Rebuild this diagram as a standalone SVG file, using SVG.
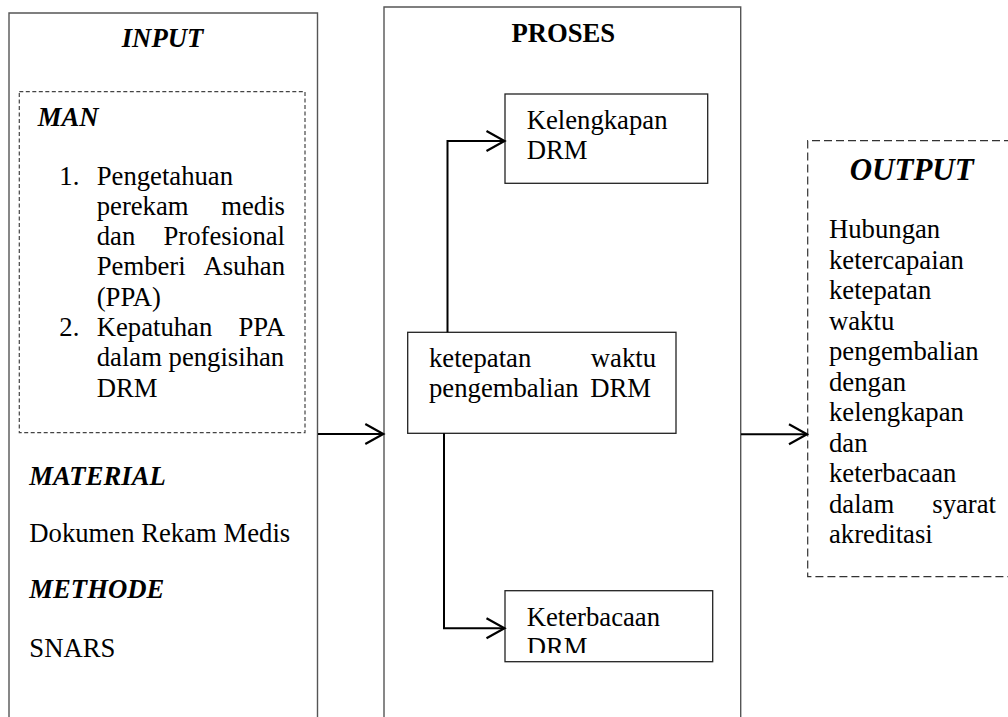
<svg xmlns="http://www.w3.org/2000/svg" width="1008" height="717" viewBox="0 0 1008 717">
<style>
text{font-family:"Liberation Serif","Times New Roman",serif;font-size:26.7px;fill:#000}
.bi{font-weight:bold;font-style:italic}
.b{font-weight:bold}
.outer{fill:none;stroke:#555;stroke-width:1.4}
.box{fill:#fff;stroke:#222;stroke-width:1.3}
.dash1{fill:none;stroke:#444;stroke-width:1.2;stroke-dasharray:4 2.5}
.dash2{fill:none;stroke:#333;stroke-width:1.2;stroke-dasharray:8 4}
.conn{fill:none;stroke:#000;stroke-width:2}
</style>
<defs>
<marker id="arr" viewBox="0 0 20 22" refX="18.5" refY="11" markerWidth="20" markerHeight="22" markerUnits="userSpaceOnUse" orient="auto" overflow="visible">
<path d="M0.5,1 L18.5,11 L0.5,21" fill="none" stroke="#000" stroke-width="2.2"/>
</marker>
<clipPath id="kclip"><rect x="505" y="591" width="208" height="62"/></clipPath>
</defs>

<g id="input">
<path class="outer" d="M9,720 V13 H317.5 V720"/>
<text class="bi" x="162.5" y="47" text-anchor="middle">INPUT</text>
<rect class="dash1" x="19.3" y="91.7" width="285.7" height="341"/>
<text class="bi" x="37.7" y="126">MAN</text>
<text x="59.3" y="184.5">1.</text>
<text x="96.7" y="184.5">Pengetahuan</text>
<text x="96.7" y="214.8">perekam</text><text x="285" y="214.8" text-anchor="end">medis</text>
<text x="96.7" y="245">dan</text><text x="285" y="245" text-anchor="end">Profesional</text>
<text x="96.7" y="275.4">Pemberi</text><text x="285" y="275.4" text-anchor="end">Asuhan</text>
<text x="96.7" y="305.7">(PPA)</text>
<text x="59.3" y="336">2.</text>
<text x="96.7" y="336">Kepatuhan</text><text x="285" y="336" text-anchor="end">PPA</text>
<text x="96.7" y="366.3">dalam pengisihan</text>
<text x="96.7" y="396.6">DRM</text>
<text class="bi" x="29.3" y="485">MATERIAL</text>
<text x="29.3" y="541.7">Dokumen Rekam Medis</text>
<text class="bi" x="29.3" y="598.3">METHODE</text>
<text x="29.3" y="656.7">SNARS</text>
</g>

<g id="proses">
<path class="outer" d="M384,720 V7 H740.7 V720"/>
<text class="b" x="563.3" y="41.7" text-anchor="middle">PROSES</text>
</g>

<g id="kelengkapan">
<rect class="box" x="505" y="94" width="202.7" height="89.3"/>
<text x="526.7" y="128.5">Kelengkapan</text>
<text x="526.7" y="159">DRM</text>
</g>

<g id="ketepatan">
<rect class="box" x="407.7" y="332.3" width="268.3" height="101"/>
<text x="429" y="366.7">ketepatan</text><text x="656" y="366.7" text-anchor="end">waktu</text>
<text x="429" y="396.7">pengembalian</text><text x="651" y="396.7" text-anchor="end">DRM</text>
</g>

<g id="keterbacaan">
<rect class="box" x="505" y="590.7" width="207.7" height="71"/>
<g clip-path="url(#kclip)">
<text x="526.7" y="625.7">Keterbacaan</text>
<text x="526.7" y="656">DRM</text>
</g>
</g>

<g id="output">
<path class="dash2" d="M1012,140.7 H807.7 V576.7 H1012"/>
<text class="bi" x="911.7" y="180" text-anchor="middle" style="font-size:31px">OUTPUT</text>
<text x="829" y="238.3">Hubungan</text>
<text x="829" y="268.8">ketercapaian</text>
<text x="829" y="299.3">ketepatan</text>
<text x="829" y="329.8">waktu</text>
<text x="829" y="360.3">pengembalian</text>
<text x="829" y="390.8">dengan</text>
<text x="829" y="421.3">kelengkapan</text>
<text x="829" y="451.8">dan</text>
<text x="829" y="482.3">keterbacaan</text>
<text x="829" y="512.8">dalam</text><text x="996" y="512.8" text-anchor="end">syarat</text>
<text x="829" y="543.3">akreditasi</text>
</g>

<g id="connectors">
<path class="conn" d="M318,434 H383.3" marker-end="url(#arr)"/>
<path class="conn" d="M741,434.3 H807" marker-end="url(#arr)"/>
<path class="conn" d="M447.5,332.3 V141 H504.5" marker-end="url(#arr)"/>
<path class="conn" d="M444,433.3 V628.3 H504.5" marker-end="url(#arr)"/>
</g>
</svg>
